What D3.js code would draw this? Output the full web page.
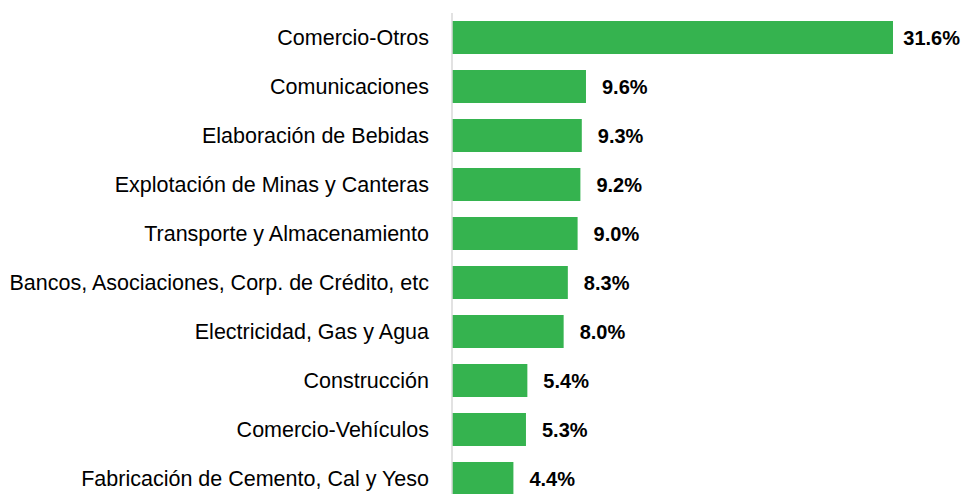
<!DOCTYPE html>
<html><head><meta charset="utf-8">
<script src="https://cdn.jsdelivr.net/npm/d3@7"></script>
<style>body{margin:0;background:#fff;}svg{display:block;}</style>
</head><body>
<script>
const categories = [
  "Comercio-Otros",
  "Comunicaciones",
  "Elaboración de Bebidas",
  "Explotación de Minas y Canteras",
  "Transporte y Almacenamiento",
  "Bancos, Asociaciones, Corp. de Crédito, etc",
  "Electricidad, Gas y Agua",
  "Construcción",
  "Comercio-Vehículos",
  "Fabricación de Cemento, Cal y Yeso"
];
const values = [31.6, 9.6, 9.3, 9.2, 9.0, 8.3, 8.0, 5.4, 5.3, 4.4];
const valueLabels = ["31.6%", "9.6%", "9.3%", "9.2%", "9.0%", "8.3%", "8.0%", "5.4%", "5.3%", "4.4%"];

const W = 968, H = 494;
const svg = d3.select("body").append("svg").attr("width", W).attr("height", H);

const x = d3.scaleLinear().domain([0, 31.6]).range([452, 893]);
const y = d3.scaleBand().domain(categories).range([13, 503]).paddingInner(0.3265).paddingOuter(0.1633);

svg.selectAll("rect.bar").data(values).join("rect")
  .attr("class", "bar")
  .attr("x", x(0))
  .attr("y", (d, i) => y(categories[i]))
  .attr("width", d => x(d) - x(0))
  .attr("height", y.bandwidth())
  .attr("fill", "#35B34F");

// axis line
svg.append("line").attr("x1", x(0)).attr("x2", x(0)).attr("y1", 13).attr("y2", H)
  .attr("stroke", "#d9d9d9").attr("stroke-width", 1.5);

const yAxis = d3.axisLeft(y).tickSize(0).tickPadding(23);
const gy = svg.append("g").attr("transform", `translate(${x(0)},0)`).call(yAxis);
gy.select(".domain").remove();
gy.selectAll("text").attr("font-family", "Liberation Sans, Arial, sans-serif")
  .attr("font-size", 21.5).attr("fill", "#000").attr("dy", "0.37em");

const vl = svg.selectAll("text.val").data(values).join("text")
  .attr("class", "val")
  .attr("y", (d, i) => y(categories[i]) + y.bandwidth() / 2)
  .attr("dy", "0.37em")
  .attr("font-family", "Liberation Sans, Arial, sans-serif")
  .attr("font-weight", "bold")
  .attr("font-size", 20)
  .attr("fill", "#000")
  .text((d, i) => valueLabels[i]);
vl.attr("x", function(d) {
  const w = this.getComputedTextLength();
  return Math.min(x(d) + 16, W - 8 - w);
});
</script>
</body></html>
